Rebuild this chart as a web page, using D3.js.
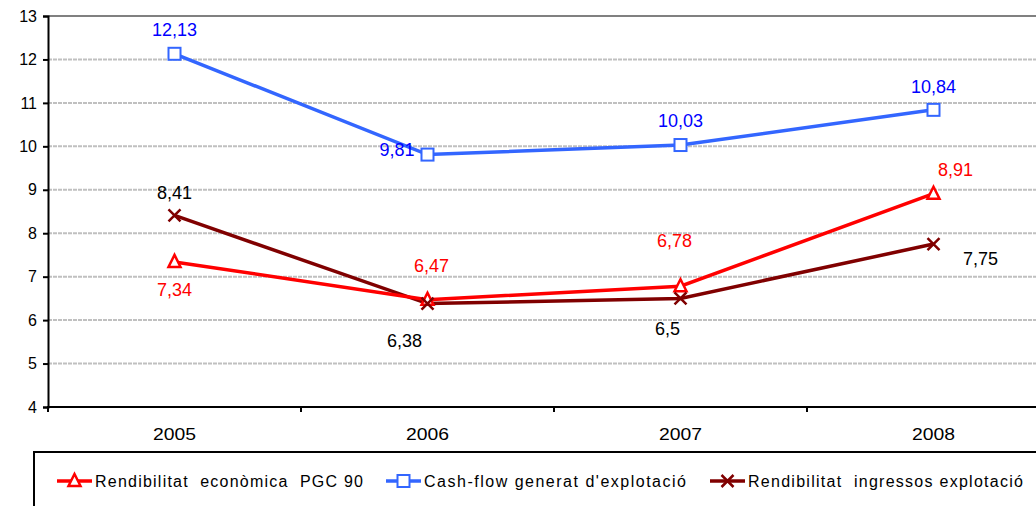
<!DOCTYPE html>
<html>
<head>
<script src="https://d3js.org/d3.v7.min.js"></script>
<style>
  body { margin: 0; background: #fff; }
  text { font-family: "Liberation Sans", Arial, sans-serif; }
</style>
</head>
<body>
<script>
// data
var years = ["2005", "2006", "2007", "2008"];
var economica = [7.34, 6.47, 6.78, 8.91];
var cashflow = [12.13, 9.81, 10.03, 10.84];
var ingressos = [8.41, 6.38, 6.5, 7.75];
var seriesNames = ["Rendibilitat  econòmica  PGC 90", "Cash-flow generat d'explotació", "Rendibilitat  ingressos explotació"];
var yTicks = [4, 5, 6, 7, 8, 9, 10, 11, 12, 13];

var w = 1036, h = 506;
var svg = d3.select("body").append("svg").attr("width", w).attr("height", h);

var x = d3.scaleBand().domain(years).range([48, 48 + 4 * 253]);
var y = d3.scaleLinear().domain([4, 13]).range([407, 16]);
var cx = function(d, i) { return x(years[i]) + x.bandwidth() / 2; };

// grid
svg.selectAll("line.grid").data(yTicks.slice(1, -1)).enter().append("line")
  .attr("x1", 48).attr("x2", w).attr("y1", d => y(d)).attr("y2", d => y(d))
  .attr("stroke", "#c0c0c0").attr("stroke-width", 2).attr("stroke-dasharray", "4,1");
svg.append("line").attr("x1", 48).attr("x2", w).attr("y1", y(13)).attr("y2", y(13))
  .attr("stroke", "#808080").attr("stroke-width", 2);

// axes
var yAxis = svg.append("g").attr("transform", "translate(48,0)")
  .call(d3.axisLeft(y).tickValues(yTicks).tickSize(5).tickPadding(6));
yAxis.attr("font-size", null).attr("font-family", null);
yAxis.select(".domain").attr("stroke", "#000").attr("stroke-width", 2);
yAxis.selectAll(".tick line").attr("stroke", "#000").attr("stroke-width", 2);
yAxis.selectAll("text").style("font-size", "16px").attr("fill", "#000");

var xAxis = svg.append("g").attr("transform", "translate(0,407)")
  .call(d3.axisBottom(x).tickSize(0).tickPadding(22));
xAxis.attr("font-size", null).attr("font-family", null);
xAxis.select(".domain").remove();
xAxis.selectAll("text").style("font-size", "16px").attr("fill", "#000")
  .attr("textLength", 43).attr("lengthAdjust", "spacingAndGlyphs");
svg.append("line").attr("x1", 47).attr("x2", w).attr("y1", 407).attr("y2", 407)
  .attr("stroke", "#000").attr("stroke-width", 2);
svg.selectAll("line.xt").data(years).enter().append("line")
  .attr("x1", d => x(d)).attr("x2", d => x(d)).attr("y1", 407).attr("y2", 412)
  .attr("stroke", "#000").attr("stroke-width", 2);

// series
var series = [
  { values: cashflow, line: "#3366ff", text: "#0000ff", marker: "square",
    off: [[0, -18, "middle"], [-13, 1, "end"], [0, -18, "middle"], [0, -17, "middle"]] },
  { values: economica, line: "#ff0000", text: "#ff0000", marker: "triangle",
    off: [[0, 34, "middle"], [4, -28, "middle"], [-6, -39, "middle"], [22, -18, "middle"]] },
  { values: ingressos, line: "#800000", text: "#000000", marker: "cross",
    off: [[0, -16, "middle"], [-23, 43, "middle"], [-13, 37, "middle"], [47, 21, "middle"]] }
];

function drawMarker(g, type, color) {
  if (type === "square") {
    g.append("rect").attr("x", -6).attr("y", -6).attr("width", 12).attr("height", 12)
      .attr("fill", "#fff").attr("stroke", color).attr("stroke-width", 2);
  } else if (type === "triangle") {
    g.append("path").attr("d", "M0,-7L6,5L-6,5Z")
      .attr("fill", "#fff").attr("stroke", color).attr("stroke-width", 2.5);
  } else {
    g.append("path").attr("d", "M-6,-6L6,6M-6,6L6,-6")
      .attr("fill", "none").attr("stroke", color).attr("stroke-width", 2.5);
  }
}

var line = d3.line().x(cx).y(d => y(d));
series.slice().reverse().forEach(function(s) {
  svg.append("path").datum(s.values).attr("d", line)
    .attr("fill", "none").attr("stroke", s.line).attr("stroke-width", 3.5);
});
series.forEach(function(s) {
  s.values.forEach(function(v, i) {
    var g = svg.append("g").attr("transform", "translate(" + cx(v, i) + "," + y(v) + ")");
    drawMarker(g, s.marker, s.line);
  });
});
series.forEach(function(s) {
  svg.selectAll(null).data(s.values).enter().append("text")
    .attr("x", (d, i) => cx(d, i) + s.off[i][0])
    .attr("y", (d, i) => y(d) + s.off[i][1])
    .attr("text-anchor", (d, i) => s.off[i][2])
    .attr("font-size", 18).attr("fill", s.text)
    .text(d => String(d).replace(".", ","));
});

// legend
svg.append("rect").attr("x", 34).attr("y", 452).attr("width", w).attr("height", 100)
  .attr("fill", "#fff").attr("stroke", "#000").attr("stroke-width", 2);
var legendOrder = [series[1], series[0], series[2]];
var legX = [57, 386, 710];
var legW = [268, 262, 275];
legendOrder.forEach(function(s, i) {
  var g = svg.append("g").attr("transform", "translate(" + legX[i] + ",481)");
  g.append("line").attr("x1", 0).attr("x2", 35).attr("y1", 0).attr("y2", 0)
    .attr("stroke", s.line).attr("stroke-width", 3.5);
  var m = g.append("g").attr("transform", "translate(17.5,0)");
  drawMarker(m, s.marker, s.line);
  g.append("text").attr("x", 38).attr("y", 5.5).attr("font-size", 16).attr("fill", "#000")
    .attr("textLength", legW[i]).attr("lengthAdjust", "spacing")
    .style("white-space", "pre")
    .text(seriesNames[i]);
});
</script>
</body>
</html>
